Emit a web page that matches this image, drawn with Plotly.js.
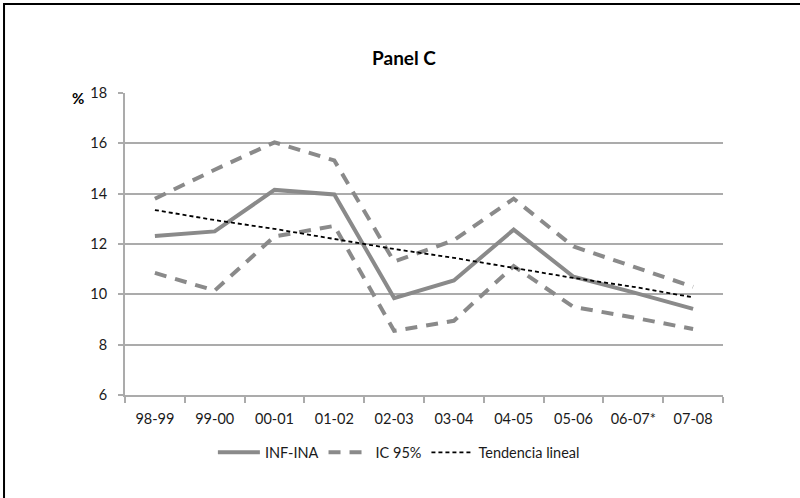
<!DOCTYPE html>
<html>
<head>
<meta charset="utf-8">
<script src="https://cdn.plot.ly/plotly-3.0.1.min.js"></script>
<style>
  html, body { margin: 0; padding: 0; background: #fff; overflow: hidden; }
  #chart { width: 800px; height: 498px; }
</style>
</head>
<body>
<div id="chart"></div>
<script>
/* Panel C — INF-INA con IC 95% y tendencia lineal */

const CATEGORIES = ['98-99', '99-00', '00-01', '01-02', '02-03', '03-04', '04-05', '05-06', '06-07*', '07-08'];

const INF_INA  = [12.32, 12.5, 14.15, 13.97, 9.85, 10.55, 12.57, 10.7, 10.08, 9.42];
const IC_UPPER = [13.8, 14.95, 16.04, 15.32, 11.3, 12.15, 13.8, 11.9, 11.1, 10.3];
const IC_LOWER = [10.85, 10.15, 12.3, 12.72, 8.55, 8.95, 11.12, 9.5, 9.08, 8.62];
const TREND    = [13.35, 12.95, 12.6, 12.2, 11.8, 11.45, 11.05, 10.65, 10.3, 9.88];

const Y_TICKS = [6, 8, 10, 12, 14, 16, 18];

const COLORS = {
  series: '#8a8a8a',
  trend:  '#000000',
  grid:   '#ababab',
  text:   '#1a1a1a',
};

const FONT = 'Lato, "Liberation Sans", sans-serif';

const traces = [
  {
    name: 'INF-INA',
    type: 'scatter',
    mode: 'lines',
    x: CATEGORIES,
    y: INF_INA,
    line: { color: COLORS.series, width: 4 },
  },
  {
    name: 'IC 95%',
    type: 'scatter',
    mode: 'lines',
    x: CATEGORIES,
    y: IC_UPPER,
    legendgroup: 'ic',
    line: { color: COLORS.series, width: 4, dash: '12px,9px' },
  },
  {
    name: 'IC 95%',
    type: 'scatter',
    mode: 'lines',
    x: CATEGORIES,
    y: IC_LOWER,
    legendgroup: 'ic',
    showlegend: false,
    line: { color: COLORS.series, width: 4, dash: '12px,9px' },
  },
  {
    name: 'Tendencia lineal',
    type: 'scatter',
    mode: 'lines',
    x: CATEGORIES,
    y: TREND,
    line: { color: COLORS.trend, width: 1.8, dash: '4px,3px' },
  },
];

const layout = {
  width: 800,
  height: 498,
  paper_bgcolor: '#ffffff',
  plot_bgcolor:  '#ffffff',
  font: { family: FONT, color: COLORS.text, size: 14.5 },
  margin: { t: 93, r: 77, b: 103, l: 125, pad: 0 },
  showlegend: true,
  title: {
    text: '<b>Panel C</b>',
    font: { family: FONT, size: 19, color: '#000' },
    x: 0.505, xanchor: 'center',
    y: 0.882, yanchor: 'middle',
  },
  xaxis: {
    type: 'category',
    range: [-0.5, CATEGORIES.length - 0.5],
    tickson: 'boundaries',
    ticks: 'outside',
    ticklen: 6,
    tickwidth: 2,
    tickcolor: COLORS.grid,
    showline: true,
    linecolor: COLORS.grid,
    linewidth: 2,
    showgrid: false,
    zeroline: false,
    ticklabelstandoff: 10,
    tickfont: { size: 14.5 },
  },
  yaxis: {
    range: [6, 18],
    tickvals: Y_TICKS,
    ticks: 'outside',
    ticklen: 5,
    tickwidth: 2,
    tickcolor: COLORS.grid,
    showline: true,
    linecolor: COLORS.grid,
    linewidth: 2,
    gridcolor: COLORS.grid,
    gridwidth: 2,
    zeroline: false,
    ticklabelstandoff: 8,
    tickfont: { size: 14.5 },
  },
  legend: {
    orientation: 'h',
    x: 0.458, xanchor: 'center',
    y: -0.19, yanchor: 'middle',
    font: { size: 14.5 },
    itemwidth: 42,
    tracegroupgap: 0,
  },
  annotations: [{
    text: '<b>%</b>',
    xref: 'paper', yref: 'paper',
    x: -0.078, y: 0.985,
    xanchor: 'center', yanchor: 'middle',
    showarrow: false,
    font: { size: 15, color: '#000' },
  }],
  shapes: [{
    type: 'rect',
    xref: 'paper', yref: 'paper',
    x0: -0.2023, x1: 1.3,
    y0: -0.5, y1: 1.2947,
    line: { color: '#000', width: 2 },
    fillcolor: 'rgba(0,0,0,0)',
  }],
};

Plotly.newPlot('chart', traces, layout, { displayModeBar: false, responsive: false });
</script>
</body>
</html>
